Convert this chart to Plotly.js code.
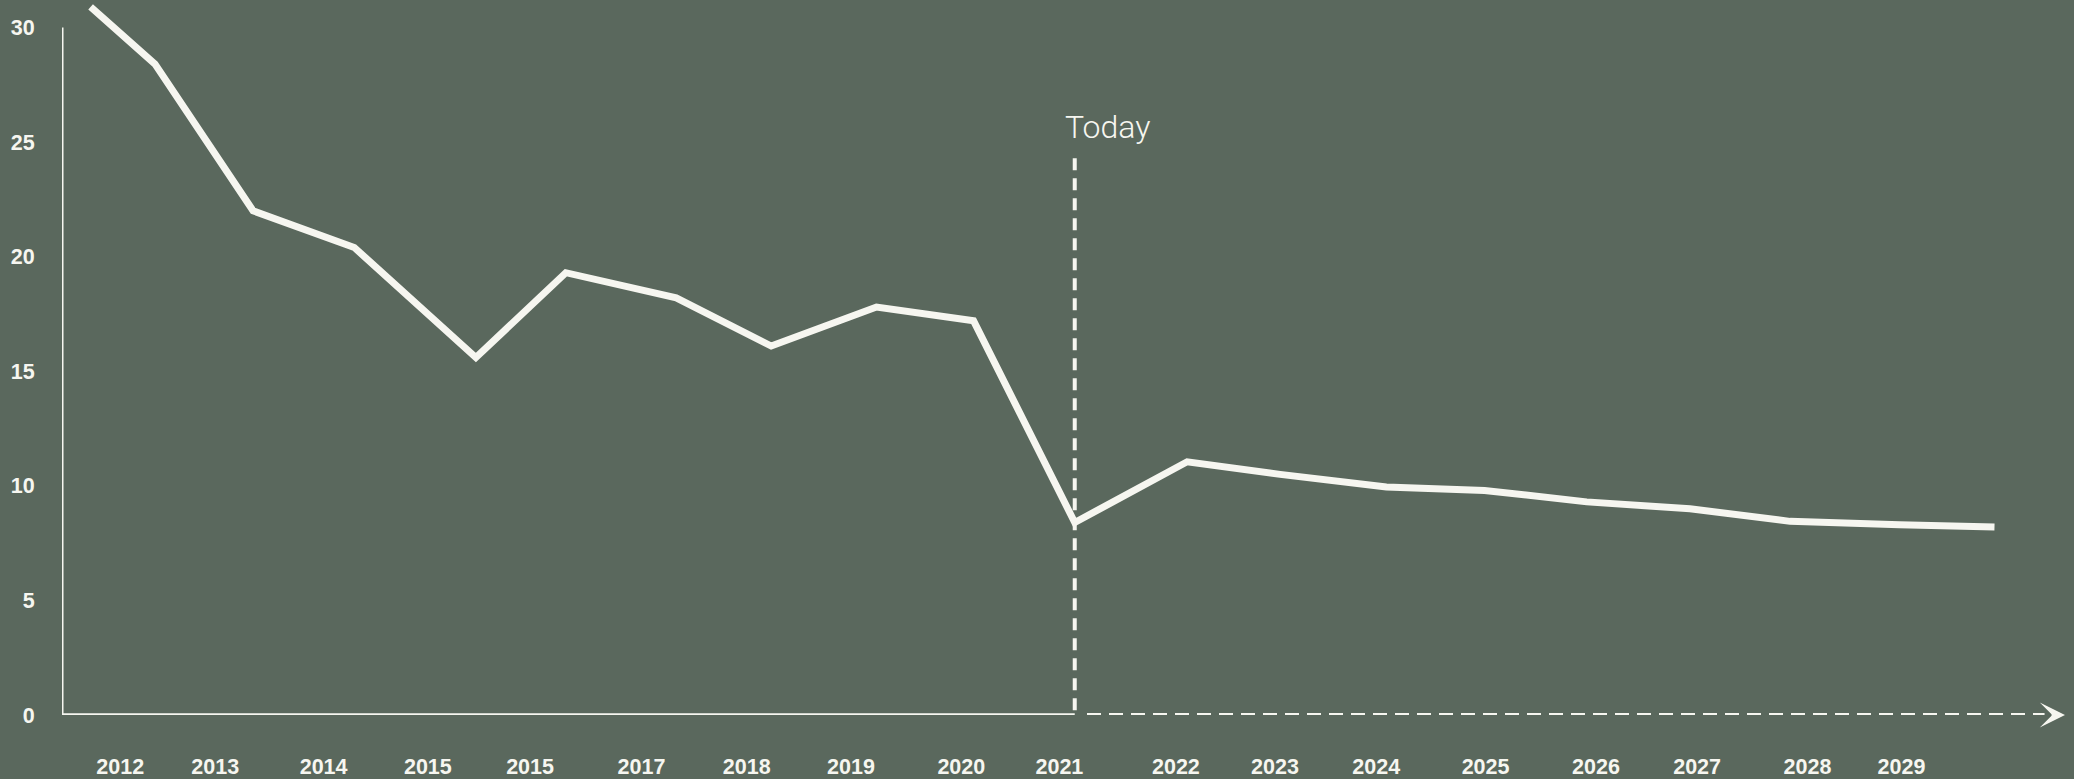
<!DOCTYPE html>
<html>
<head>
<meta charset="utf-8">
<script src="https://cdn.plot.ly/plotly-3.0.1.min.js"></script>
<style>
  html, body { margin: 0; padding: 0; background: #5a685d; }
  #chart { width: 2074px; height: 779px; }
</style>
</head>
<body>
<div id="chart"></div>
<script>
// ---- data ----
const years  = [2011.37, 2012.0, 2012.96, 2013.95, 2015.14, 2016.02, 2017.1, 2018.03, 2019.06, 2020.01,
                2021.0, 2022.1, 2023.01, 2024.05, 2025.01, 2026.01, 2027.02, 2028.0, 2029.07, 2030.0];
const values = [30.9, 28.4, 22.0, 20.4, 15.6, 19.3, 18.2, 16.1, 17.8, 17.2,
                8.4, 11.05, 10.5, 9.95, 9.8, 9.3, 9.0, 8.45, 8.3, 8.2];
const tickLabels = ["2012", "2013", "2014", "2015", "2015", "2017", "2018", "2019", "2020", "2021",
                    "2022", "2023", "2024", "2025", "2026", "2027", "2028", "2029"];
const yTicks = [0, 5, 10, 15, 20, 25, 30];
const todayYear = 2021;
const todayLabel = "Today";

// ---- presentation ----
const BG = '#5a685d';
const FG = '#f6f6f0';
const tickAt = [2011.66, 2012.59, 2013.65, 2014.67, 2015.67, 2016.76, 2017.79, 2018.81, 2019.89, 2020.85,
                2021.99, 2022.96, 2023.95, 2025.02, 2026.10, 2027.09, 2028.17, 2029.09];
const xMin = 2011.09, xMax = 2030.69;
const yMax = 31.2;

const trace = {
  x: years, y: values, type: 'scatter', mode: 'lines',
  line: { color: FG, width: 7 },
  hoverinfo: 'skip', cliponaxis: true
};

const tickFont = { family: 'Liberation Sans, Arial, sans-serif', size: 21.5, color: FG, weight: 700 };

const layout = {
  width: 2074, height: 779,
  margin: { l: 62, r: 9, t: 0, b: 64, pad: 0 },
  paper_bgcolor: BG, plot_bgcolor: BG,
  showlegend: false,
  xaxis: {
    range: [xMin, xMax], showgrid: false, zeroline: false, showline: false,
    tickmode: 'array', tickvals: tickAt, ticktext: tickLabels,
    ticks: 'outside', ticklen: 32, tickcolor: 'rgba(0,0,0,0)',
    tickfont: tickFont
  },
  yaxis: {
    range: [0, yMax], showgrid: false, zeroline: false, showline: false,
    tickmode: 'array', tickvals: yTicks, ticktext: yTicks.map(String),
    ticks: 'outside', ticklen: 22, tickcolor: 'rgba(0,0,0,0)',
    tickfont: tickFont
  },
  shapes: [
    // y axis line (0 to 30)
    { type: 'line', xref: 'x', yref: 'y', x0: xMin, x1: xMin, y0: 0, y1: 30,
      line: { color: FG, width: 3 } },
    // solid x axis up to today
    { type: 'line', xref: 'x', yref: 'y', x0: xMin, x1: todayYear, y0: 0, y1: 0,
      line: { color: FG, width: 3.5 } },
    // dashed x axis after today
    { type: 'line', xref: 'x', yref: 'y', x0: todayYear + 0.12, x1: xMax - 0.2, y0: 0, y1: 0,
      line: { color: FG, width: 4, dash: '14px,8px' } },
    // today vertical dashed line (drawn top-down so the dash pattern starts at the top)
    { type: 'line', xref: 'x', yref: 'y', x0: todayYear, x1: todayYear, y0: 24.3, y1: 0,
      line: { color: FG, width: 4, dash: '12px,8px' } }
  ],
  annotations: [
    { x: todayYear, y: 25.68, xref: 'x', yref: 'y', text: todayLabel, showarrow: false,
      xanchor: 'left', yanchor: 'middle', xshift: -12,
      font: { family: 'Roboto, Open Sans, sans-serif', size: 32, color: FG, weight: 300 } },
    { x: xMax, y: 0, xref: 'x', yref: 'y', ax: xMax - 0.14, ay: 0, axref: 'x', ayref: 'y',
      showarrow: true, text: '', arrowhead: 3, arrowsize: 1.4, arrowwidth: 3, arrowcolor: FG }
  ]
};

Plotly.newPlot('chart', [trace], layout, { displayModeBar: false, staticPlot: true });
</script>
</body>
</html>
